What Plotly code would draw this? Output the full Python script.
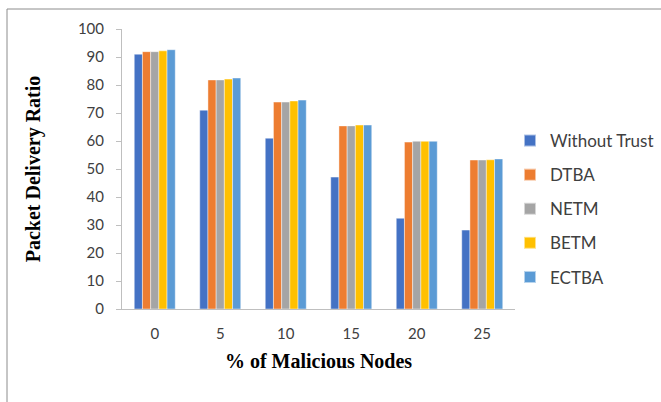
import plotly.graph_objects as go

categories = ["0", "5", "10", "15", "20", "25"]
without_trust = [91.0, 71.0, 61.0, 47.1, 32.4, 28.2]
dtba = [91.9, 81.8, 73.9, 65.4, 59.6, 53.2]
netm = [91.9, 81.8, 73.9, 65.4, 59.9, 53.2]
betm = [92.2, 82.1, 74.3, 65.7, 59.9, 53.3]
ectba = [92.6, 82.5, 74.6, 65.7, 59.9, 53.6]

series_names = ["Without Trust", "DTBA", "NETM", "BETM", "ECTBA"]
series_values = [without_trust, dtba, netm, betm, ectba]
series_colors = ["#4472C4", "#ED7D31", "#A5A5A5", "#FFC000", "#5B9BD5"]

fig = go.Figure()
for name, vals, col in zip(series_names, series_values, series_colors):
    fig.add_trace(go.Bar(
        x=categories, y=vals, name=name, legendgroup=name,
        marker=dict(color=col, line=dict(color="rgba(255,255,255,0.55)", width=0.8)),
    ))

W, H = 661, 402
L, R, T, B = 122, 146, 29, 93
pw, ph = W - L - R, H - T - B

def px_x(p):
    return (p - L) / pw

def px_y(p):
    return (H - B - p) / ph

tick_font = dict(family="Lato, Calibri, sans-serif", size=15, color="#404040")
title_font = dict(family="Liberation Serif, Times New Roman, serif", size=20, color="#000000")

fig.update_layout(
    width=W, height=H,
    margin=dict(l=L, r=R, t=T, b=B, autoexpand=False),
    paper_bgcolor="white", plot_bgcolor="white",
    barmode="group", bargap=0.374, bargroupgap=0,
    showlegend=True,
    legend=dict(
        xref="container", yref="container",
        x=510 / W, xanchor="left", y=1 - 209 / H, yanchor="middle",
        font=dict(family="Lato, Calibri, sans-serif", size=17, color="#404040"),
        tracegroupgap=9, itemsizing="constant",
    ),
    xaxis=dict(
        showgrid=False, showline=True, linecolor="#BFBFBF", linewidth=1,
        ticks="", tickfont=tick_font, ticklabelstandoff=11,
        title=dict(text="<b>% of Malicious Nodes</b>", font=title_font, standoff=12),
    ),
    yaxis=dict(
        range=[0, 100], dtick=10, showgrid=False, zeroline=False,
        showline=True, linecolor="#BFBFBF", linewidth=1,
        ticks="outside", ticklen=5, tickcolor="#BFBFBF",
        tickfont=tick_font, ticklabelstandoff=9,
        title=dict(text="<b>Packet Delivery Ratio</b>", font=title_font, standoff=31),
    ),
    shapes=[
        dict(type="line", xref="paper", yref="paper",
             x0=px_x(7), x1=px_x(W), y0=px_y(9), y1=px_y(9),
             line=dict(color="#8C8C8C", width=1)),
        dict(type="line", xref="paper", yref="paper",
             x0=px_x(7), x1=px_x(7), y0=px_y(9), y1=px_y(H),
             line=dict(color="#8C8C8C", width=1)),
    ],
)

fig.write_html("out.html")
